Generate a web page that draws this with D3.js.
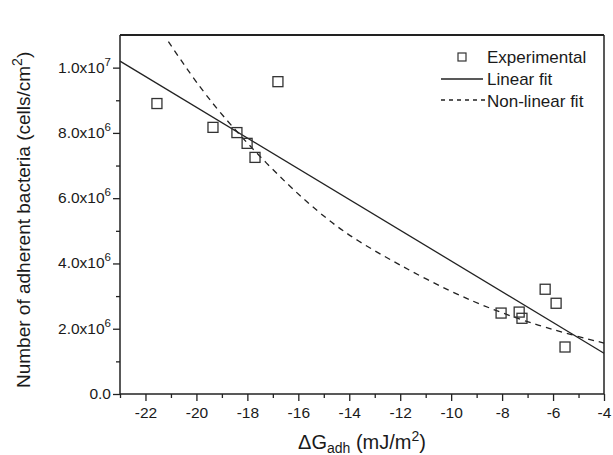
<!DOCTYPE html>
<html>
<head>
<meta charset="utf-8">
<script src="https://cdn.jsdelivr.net/npm/d3@7"></script>
<style>
    body { margin: 0; background: #fff; }
    svg text { font-family: "Liberation Sans", Arial, sans-serif; fill: #1a1a1a; }
</style>
</head>
<body>
<svg id="chart" width="613" height="455"></svg>
<script>
// experimental points
var expX = [-21.55, -19.35, -18.41, -18.01, -17.70, -16.80, -8.04, -7.33, -7.22, -6.31, -5.88, -5.53];
var expY = [8.90e6, 8.17e6, 8.01e6, 7.68e6, 7.25e6, 9.57e6, 2.48e6, 2.51e6, 2.32e6, 3.21e6, 2.78e6, 1.44e6];

// linear fit (end points read at the axis edges)
var linX = [-23, -4];
var linY = [1.02e7, 1.25e6];

// non-linear fit
var nlX = [-21.1, -20.5, -19.6, -18.4, -16.4, -14.8, -13.7, -12.1, -10, -8.2, -6.5, -5.3, -4];
var nlY = [10.8e6, 10.1e6, 9.12e6, 8.0e6, 6.38e6, 5.3e6, 4.7e6, 3.98e6, 3.12e6, 2.53e6, 2.08e6, 1.82e6, 1.56e6];

var xTicks = [-22, -20, -18, -16, -14, -12, -10, -8, -6, -4];
var xMinor = [-23, -21, -19, -17, -15, -13, -11, -9, -7, -5];
var yTicks = [0, 2e6, 4e6, 6e6, 8e6, 1e7];
var yMinor = [1e6, 3e6, 5e6, 7e6, 9e6];
var yTickMantissa = ["0.0", "2.0x10", "4.0x10", "6.0x10", "8.0x10", "1.0x10"];
var yTickExp = ["", "6", "6", "6", "6", "7"];
var legendLabels = ["Experimental", "Linear fit", "Non-linear fit"];

var margin = { top: 35, right: 9, bottom: 61, left: 120 };
var width = 613, height = 455;

var svg = d3.select("#chart");

var x = d3.scaleLinear()
    .domain([-23, -4])
    .range([margin.left, width - margin.right]);

var y = d3.scaleLinear()
    .domain([0, 1.1e7])
    .range([height - margin.bottom, margin.top]);

var ink = "#222";

// x axis
var gx = svg.append("g")
    .attr("transform", `translate(0,${height - margin.bottom})`)
    .call(d3.axisBottom(x).tickValues(xTicks).tickSize(7).tickPadding(6).tickFormat(d => d));
gx.select(".domain").remove();
gx.selectAll("text").style("font-size", "15.5px").attr("fill", "#1a1a1a");
gx.selectAll("line").attr("stroke", ink).attr("stroke-width", 1.3);

var gxm = svg.append("g")
    .attr("transform", `translate(0,${height - margin.bottom})`)
    .call(d3.axisBottom(x).tickValues(xMinor).tickSize(4).tickFormat(""));
gxm.select(".domain").remove();
gxm.selectAll("line").attr("stroke", ink).attr("stroke-width", 1.3);

// y axis
var gy = svg.append("g")
    .attr("transform", `translate(${margin.left},0)`)
    .call(d3.axisLeft(y).tickValues(yTicks).tickSize(7).tickFormat(""));
gy.select(".domain").remove();
gy.selectAll("line").attr("stroke", ink).attr("stroke-width", 1.3);

var gym = svg.append("g")
    .attr("transform", `translate(${margin.left},0)`)
    .call(d3.axisLeft(y).tickValues(yMinor).tickSize(4).tickFormat(""));
gym.select(".domain").remove();
gym.selectAll("line").attr("stroke", ink).attr("stroke-width", 1.3);

// y tick labels with superscript exponents
var yl = svg.append("g").selectAll("text")
    .data(yTicks)
    .join("text")
    .attr("x", margin.left - 9)
    .attr("y", d => y(d) + 5)
    .attr("text-anchor", "end")
    .style("font-size", "15.5px");
yl.append("tspan").text((d, i) => yTickMantissa[i]);
yl.append("tspan")
    .attr("dy", -7)
    .style("font-size", "11.5px")
    .text((d, i) => yTickExp[i]);

// frame
var x0 = x.range()[0], x1 = x.range()[1], y0 = y.range()[0], y1 = y.range()[1];
svg.append("line").attr("x1", x0).attr("x2", x1).attr("y1", y0).attr("y2", y0)
    .attr("stroke", ink).attr("stroke-width", 1.5);
svg.append("line").attr("x1", x0).attr("x2", x0).attr("y1", y0).attr("y2", y1)
    .attr("stroke", ink).attr("stroke-width", 1.5);
svg.append("line").attr("x1", x0).attr("x2", x1).attr("y1", y1).attr("y2", y1)
    .attr("stroke", ink).attr("stroke-width", 2);
svg.append("line").attr("x1", x1).attr("x2", x1).attr("y1", y0).attr("y2", y1)
    .attr("stroke", ink).attr("stroke-width", 1.5);

// fits
var line = d3.line()
    .x(d => x(d[0]))
    .y(d => y(d[1]));

svg.append("path")
    .datum(linX.map((v, i) => [v, linY[i]]))
    .attr("d", line)
    .attr("fill", "none")
    .attr("stroke", ink)
    .attr("stroke-width", 1.3);

svg.append("path")
    .datum(nlX.map((v, i) => [v, nlY[i]]))
    .attr("d", line.curve(d3.curveBasis))
    .attr("fill", "none")
    .attr("stroke", ink)
    .attr("stroke-width", 1.3)
    .attr("stroke-dasharray", "6,5");

// experimental squares
var s = 10;
svg.append("g")
    .selectAll("rect")
    .data(expX.map((v, i) => [v, expY[i]]))
    .join("rect")
    .attr("x", d => x(d[0]) - s / 2)
    .attr("y", d => y(d[1]) - s / 2)
    .attr("width", s)
    .attr("height", s)
    .attr("fill", "none")
    .attr("stroke", "#333")
    .attr("stroke-width", 1.3);

// legend
var lg = svg.append("g");
lg.append("rect")
    .attr("x", 458).attr("y", 53).attr("width", 8).attr("height", 8)
    .attr("fill", "none").attr("stroke", "#333").attr("stroke-width", 1.2);
lg.append("line").attr("x1", 441).attr("x2", 483).attr("y1", 79).attr("y2", 79)
    .attr("stroke", ink).attr("stroke-width", 1.3);
lg.append("line").attr("x1", 441).attr("x2", 485).attr("y1", 100).attr("y2", 100)
    .attr("stroke", ink).attr("stroke-width", 1.3).attr("stroke-dasharray", "4,4");
lg.selectAll("text")
    .data(legendLabels)
    .join("text")
    .attr("x", 487)
    .attr("y", (d, i) => 63 + i * 22)
    .style("font-size", "17px")
    .text(d => d);

// axis titles
var xt = svg.append("text")
    .attr("x", (x0 + x1) / 2)
    .attr("y", 449)
    .attr("text-anchor", "middle")
    .style("font-size", "20px");
xt.append("tspan").text("\u0394G");
xt.append("tspan").attr("dy", 4).style("font-size", "14px").text("adh");
xt.append("tspan").attr("dy", -4).text(" (mJ/m");
xt.append("tspan").attr("dy", -8).style("font-size", "14px").text("2");
xt.append("tspan").attr("dy", 8).text(")");

var yt = svg.append("text")
    .attr("transform", "translate(30,388) rotate(-90)")
    .attr("text-anchor", "start")
    .style("font-size", "19px");
yt.append("tspan").text("Number of adherent bacteria (cells/cm");
yt.append("tspan").attr("dy", -8).style("font-size", "14px").text("2");
yt.append("tspan").attr("dy", 8).text(")");
</script>
</body>
</html>
